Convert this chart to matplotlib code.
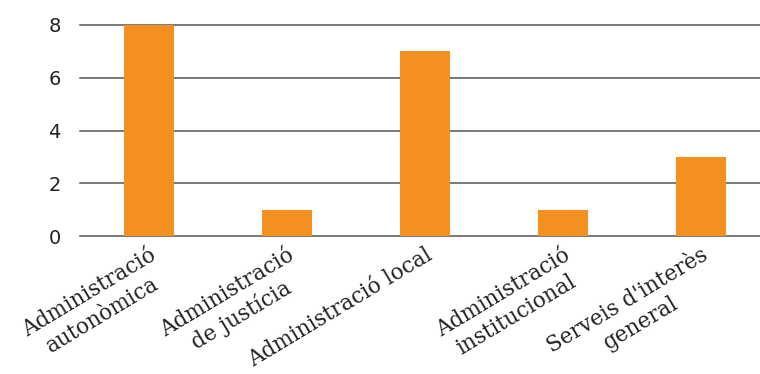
import matplotlib.pyplot as plt

# Data
categories = ['Administració\nautonòmica', 'Administració\nde justícia',
              'Administració local', 'Administració\ninstitucional',
              "Serveis d'interès\ngeneral"]
values = [8, 1, 7, 1, 3]
yticks = [0, 2, 4, 6, 8]

fig = plt.figure(figsize=(7.6, 3.74), dpi=100)
ax = fig.add_axes([80 / 760, 1 - 236 / 374, 680 / 760, 211 / 374])

x = range(len(categories))
ax.bar(x, values, width=0.36, color='#F39020', zorder=3)

ax.set_ylim(0, 8)
ax.set_xlim(-0.5, 4.43)
ax.set_yticks(yticks)
for t in yticks:
    ax.axhline(t, color='#555555', linewidth=1.1, zorder=1, clip_on=False)
for s in ax.spines.values():
    s.set_visible(False)
ax.tick_params(axis='y', length=0, pad=14, labelsize=14, labelcolor='#222222')
ax.tick_params(axis='x', length=0, pad=6)

ax.set_xticks(list(x))
ax.set_xticklabels(categories, rotation=31, ha='right', va='top',
                   rotation_mode='anchor', multialignment='center',
                   family='DejaVu Serif', fontsize=15.5, color='#222222')

fig.savefig('out.png', dpi=100)
